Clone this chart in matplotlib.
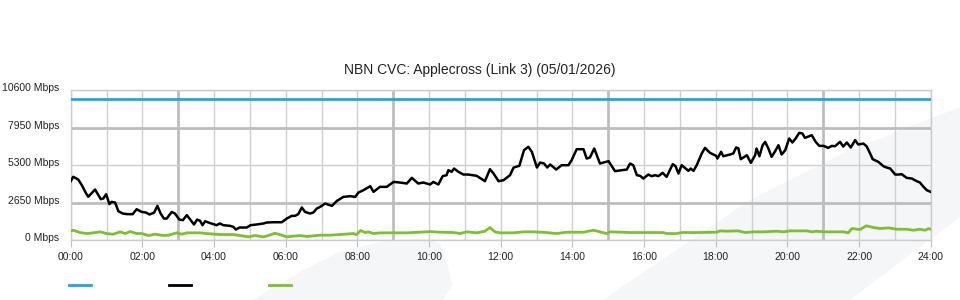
import matplotlib
matplotlib.use('Agg')
import matplotlib.pyplot as plt
from matplotlib.patches import Polygon
from matplotlib.lines import Line2D
from matplotlib.transforms import ScaledTranslation

plt.rcParams['font.family'] = ['Liberation Sans', 'DejaVu Sans']

title = 'NBN CVC: Applecross (Link 3) (05/01/2026)'

# capacity (blue)
capacity_hours = [0, 24]
capacity_mbps = [10000, 10000]

# traffic in (black)
black_hours = [0.00, 0.07, 0.21, 0.31, 0.43, 0.49, 0.68, 0.84, 0.91, 0.99,
               1.08, 1.14, 1.24, 1.33, 1.45, 1.58, 1.73, 1.84, 1.98, 2.10,
               2.20, 2.33, 2.42, 2.51, 2.60, 2.68, 2.82, 2.91, 3.03, 3.13,
               3.24, 3.35, 3.44, 3.53, 3.61, 3.68, 3.75, 3.87, 3.98, 4.07,
               4.16, 4.26, 4.45, 4.54, 4.61, 4.71, 4.91, 5.02, 5.19, 5.38,
               5.47, 5.66, 5.89, 6.03, 6.17, 6.26, 6.35, 6.45, 6.54, 6.68,
               6.77, 6.87,
               6.96, 7.10, 7.29, 7.43, 7.61, 7.80, 7.94, 8.03, 8.17, 8.36,
               8.45, 8.63, 8.82, 9.01, 9.19, 9.38, 9.52, 9.70, 9.84, 10.03,
               10.12, 10.26, 10.38, 10.49, 10.54, 10.63, 10.70, 10.82, 10.96, 11.10,
               11.33, 11.56, 11.70, 11.80, 11.94, 12.08, 12.26, 12.36, 12.52, 12.65,
               12.77, 12.87, 13.01, 13.10, 13.21, 13.30, 13.38, 13.55, 13.70, 13.89,
               13.98, 14.12, 14.31, 14.40, 14.49, 14.61, 14.77, 15.01, 15.19, 15.38,
               15.52,
               15.61, 15.70, 15.80, 15.89, 15.98, 16.12, 16.21, 16.31, 16.40, 16.52,
               16.63, 16.80, 16.88, 16.96, 17.05, 17.24, 17.30, 17.38, 17.47, 17.61,
               17.70, 17.84, 18.01, 18.05, 18.15, 18.21, 18.40, 18.49, 18.57, 18.63,
               18.70, 18.87, 18.98, 19.10, 19.14, 19.22, 19.31, 19.38, 19.47, 19.56,
               19.66, 19.75, 19.84, 19.94, 20.05, 20.14, 20.23, 20.33, 20.42, 20.49,
               20.68, 20.79, 20.89, 21.01, 21.14, 21.24, 21.33, 21.47, 21.56, 21.66,
               21.77, 21.89, 21.98, 22.12, 22.21, 22.31, 22.38, 22.54, 22.68, 22.77,
               22.87, 23.01, 23.10, 23.19, 23.33, 23.47, 23.59, 23.70, 23.80, 23.89,
               24.00]
black_mbps = [4170, 4480, 4290, 3890, 3300, 3070, 3580, 2900, 2945, 3250,
              2550, 2710, 2660, 2050, 1885, 1840, 1840, 2190, 2000, 1955,
              1815, 1955, 2425, 1885, 1530, 1530, 2000, 1885, 1460, 1415,
              1770, 1415, 1110, 1460, 1370, 1060, 1340, 1225, 1130, 1060,
              1180, 1060, 1015, 940, 755, 895, 895, 1060, 1110, 1180,
              1250, 1270, 1270, 1530, 1720, 1720, 1840, 2310, 2000, 1885,
              1955, 2240,
              2355, 2590, 2425, 2780, 3060, 3110, 3060, 3370, 3535, 3815,
              3415, 3770, 3770, 4120, 4075, 4005, 4405, 4005, 4075, 3935,
              4120, 3935, 4525, 4595, 4950, 4830, 5065, 4830, 4640, 4640,
              4550, 4170, 5020, 4710, 4170, 4240, 4595, 5135, 5255, 6360,
              6600, 6245, 5135, 5490, 5420, 5135, 5350, 4995, 5300, 5300,
              5655, 6430, 6430, 5770, 5845, 6480, 5420, 5585, 4880, 4950,
              4995,
              5420, 5300, 4595, 4550, 4360, 4640, 4525, 4595, 4525, 4760,
              4475, 5370, 5230, 4710, 5300, 4900, 5065, 4900, 5300, 6125,
              6525, 6175, 5960, 5770, 6245, 5935, 6055, 6125, 6550, 6500,
              5725, 6005, 5465, 6005, 6480, 5935, 6715, 6950, 6480, 5890,
              6290, 6715, 6055, 6360, 7185, 6905, 7185, 7585, 7540, 7230,
              7420, 6950, 6665, 6665, 6525, 6665, 6640, 6950, 6620, 6905,
              6550, 7070, 6760, 6830, 6640, 6125, 5725, 5535, 5230, 5135,
              5065, 4640, 4640, 4665, 4405, 4360, 4195, 4075, 3770, 3535,
              3415]

# traffic out (green)
green_hours = [0.00, 0.07, 0.26, 0.45, 0.63, 0.82, 1.00, 1.19, 1.38, 1.52,
               1.66, 1.84, 1.98, 2.17, 2.35, 2.59, 2.73, 2.96, 3.10, 3.24,
               3.61, 3.80, 4.17, 4.54, 4.72, 4.96, 5.14, 5.38, 5.52, 5.70,
               5.89, 6.03, 6.21, 6.40, 6.59, 6.77,
               6.96, 7.24, 7.52, 7.89, 7.98, 8.09, 8.22, 8.31, 8.45, 8.63,
               9.01, 9.38, 9.75, 10.03, 10.31, 10.68, 10.87, 11.05, 11.33, 11.56,
               11.70, 11.84, 11.98, 12.36, 12.63, 12.91, 13.29, 13.56, 13.84, 14.31,
               14.59, 14.77, 14.96, 15.05, 15.43,
               15.61, 15.98, 16.54, 16.63, 16.91, 17.05, 17.47, 18.03, 18.12, 18.31,
               18.63, 18.82, 19.05, 19.33, 19.70, 19.89, 20.08, 20.54, 20.68, 20.82,
               21.01, 21.28, 21.56, 21.70, 21.80, 22.03, 22.12, 22.21, 22.40, 22.59,
               22.82, 23.05, 23.33, 23.52, 23.70, 23.84, 23.94, 24.00]
green_mbps = [650, 705, 540, 470, 520, 590, 470, 425, 590, 470,
              610, 470, 470, 330, 425, 330, 355, 520, 425, 520,
              520, 470, 400, 400, 330, 235, 330, 235, 330, 495,
              355, 235, 285, 330, 260, 305,
              355, 355, 400, 470, 400, 685, 540, 590, 470, 520,
              520, 520, 565, 610, 565, 540, 470, 590, 520, 635,
              895, 590, 520, 520, 590, 590, 540, 470, 565, 565,
              705, 590, 470, 590, 565,
              540, 540, 540, 470, 470, 540, 540, 565, 660, 635,
              660, 540, 590, 590, 635, 590, 660, 660, 590, 635,
              590, 590, 590, 520, 825, 755, 895, 1015, 895, 825,
              870, 775, 775, 705, 775, 705, 825, 775]

y_ticks = [0, 2650, 5300, 7950, 10600]
y_labels = ['0 Mbps', '2650 Mbps', '5300 Mbps', '7950 Mbps', '10600 Mbps']
x_ticks = list(range(0, 25, 2))
x_labels = ['%02d:00' % h for h in x_ticks]

W, H = 960, 300
fig = plt.figure(figsize=(9.6, 3.0), dpi=100)


def px(x, y):
    return (x / W, 1 - y / H)


# faint background swooshes
bg = '#f5f6f8'
shape1 = [(253, 300), (300, 272), (340, 252), (380, 242), (420, 239),
          (440, 243), (447, 262), (452, 285), (443, 300)]
shape2 = [(603, 300), (650, 268), (700, 234), (750, 200), (850, 150),
          (960, 107), (960, 217), (850, 300)]
for shp in (shape1, shape2):
    fig.patches.append(Polygon([px(*p) for p in shp], closed=True,
                               transform=fig.transFigure, facecolor=bg,
                               edgecolor='none', zorder=-10))

ax = fig.add_axes([70.7 / W, 1 - 240.2 / H, 860 / W, 150 / H])
ax.set_facecolor('none')
ax.set_xlim(0, 24)
ax.set_ylim(0, 10600)

# grid
for h in range(25):
    if h % 6 == 3:
        ax.axvline(h, color='#bdbdbd', lw=2, zorder=1)
    else:
        ax.axvline(h, color='#d0d0d0', lw=1, zorder=1)
for v in y_ticks:
    if v in (2650, 7950):
        ax.axhline(v, color='#bdbdbd', lw=2, zorder=1)
    else:
        ax.axhline(v, color='#d0d0d0', lw=1, zorder=1)

ax.plot(capacity_hours, capacity_mbps, color='#1fa6e3', lw=2, zorder=3)
ax.plot(green_hours, green_mbps, color='#7dc02d', lw=2, zorder=3)
ax.plot(black_hours, black_mbps, color='black', lw=1.8, zorder=4)

for s in ax.spines.values():
    s.set_color('#cccccc')
    s.set_linewidth(1)

ax.set_xticks(x_ticks)
ax.set_xticklabels(x_labels)
ax.set_yticks(y_ticks)
ax.set_yticklabels(y_labels)
ax.tick_params(axis='x', length=5, color='#c0c0c0', pad=3.5, labelsize=7.5,
               labelcolor='#222222')
ax.tick_params(axis='y', length=0, pad=8.2, labelsize=7.5, labelcolor='#222222')
off = ScaledTranslation(0, 2 / 72, fig.dpi_scale_trans)
for lbl in ax.get_yticklabels():
    lbl.set_transform(lbl.get_transform() + off)

fig.text(0.5, 1 - 70 / H, title, ha='center', va='center', fontsize=10,
         color='#222222')

# legend swatches (no labels)
for x0, c in ((69, '#1fa6e3'), (169, 'black'), (269, '#7dc02d')):
    p0 = px(x0, 285)
    p1 = px(x0 + 22, 285)
    fig.add_artist(Line2D([p0[0], p1[0]], [p0[1], p1[1]],
                          transform=fig.transFigure, color=c, lw=2))

fig.savefig('out.png', dpi=100)
